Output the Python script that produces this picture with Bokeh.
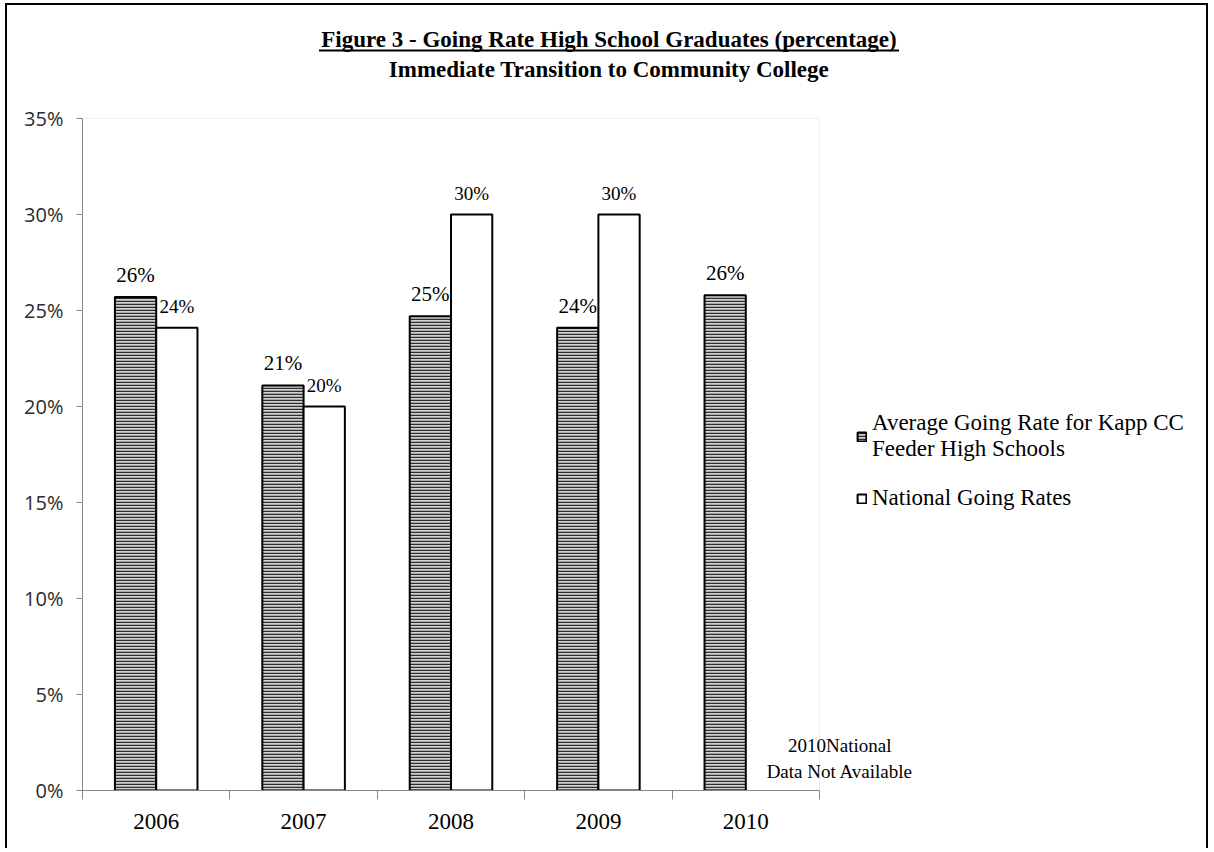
import numpy as np
from bokeh.plotting import figure
from bokeh.models import (ColumnDataSource, Range1d, FixedTicker, PrintfTickFormatter,
                          LabelSet, Label, Legend, LegendItem, Arrow, BoxAnnotation)
from bokeh.transform import dodge
from bokeh.core.properties import value
from bokeh.embed import file_html
from bokeh.resources import INLINE

# ---------------- data ----------------
years = ["2006", "2007", "2008", "2009", "2010"]
feeder_rate = [25.7, 21.1, 24.7, 24.1, 25.8]
feeder_labels = ["26%", "21%", "25%", "24%", "26%"]
national_rate = [24.1, 20.0, 30.0, 30.0, None]
national_labels = ["24%", "20%", "30%", "30%", ""]
y_ticks = [0, 5, 10, 15, 20, 25, 30, 35]
series_names = ["Average Going Rate for Kapp CC\nFeeder High Schools", "National Going Rates"]
title_text = "Figure 3 - Going Rate High School Graduates (percentage)"
subtitle_text = "Immediate Transition to Community College"
note_text = "2010National\nData Not Available"

# ---------------- layout (pixels) ----------------
W, H = 1203, 845            # canvas size (inside the 2px box border)
ML, MB = 75, 60             # space for the axes
PLOT_W, PLOT_H = 737, 672   # pixel size of the charted region (x 0.5..5.5, y 0..35)
FW, FH = W - ML, H - MB     # frame covers everything above / right of the axes

x_lo, x_hi = 0.5, len(years) + 0.5
y_lo, y_hi = 0, 35
px_x = PLOT_W / (x_hi - x_lo)
px_y = PLOT_H / (y_hi - y_lo)
x_end = x_lo + FW / px_x
y_end = y_lo + FH / px_y

pos = [i + 1 for i in range(len(years))]
src = ColumnDataSource(dict(
    x=pos,
    feeder=feeder_rate,
    national=[np.nan if v is None else v for v in national_rate],
    fl=feeder_labels,
    nl=national_labels,
))

p = figure(width=W, height=H, x_range=Range1d(x_lo, x_end), y_range=Range1d(y_lo, y_end),
           output_backend="svg", toolbar_location=None,
           min_border_left=ML, min_border_top=0, min_border_right=0, min_border_bottom=MB)
p.styles = {"border-top": "2px solid black", "border-left": "2px solid black",
            "border-right": "2px solid black", "margin-left": "5px", "margin-top": "3px"}
p.background_fill_color = "white"
p.border_fill_color = "white"
p.outline_line_color = None
p.xgrid.visible = False
p.ygrid.visible = False

# plot-area edge (light grey box behind the data)
p.add_layout(BoxAnnotation(left=x_lo, right=x_hi, bottom=y_lo, top=y_hi,
                           fill_alpha=0, line_color="#cfcfcf", line_width=1,
                           level="underlay"))

# y axis
p.yaxis.bounds = (y_lo, y_hi)
p.yaxis.ticker = FixedTicker(ticks=y_ticks)
p.yaxis.formatter = PrintfTickFormatter(format="%d%%")
p.yaxis.axis_line_color = "#868686"
p.yaxis.major_tick_line_color = "#868686"
p.yaxis.major_tick_out = 6
p.yaxis.major_tick_in = 0
p.yaxis.minor_tick_line_color = None
p.yaxis.major_label_text_font = "Open Sans"
p.yaxis.major_label_text_font_size = "20px"
p.yaxis.major_label_text_color = "#2b2b2b"
p.yaxis.major_label_standoff = 13

# x axis
p.xaxis.bounds = (x_lo, x_hi)
p.xaxis.ticker = FixedTicker(ticks=pos, minor_ticks=[x_lo + i for i in range(len(years) + 1)])
p.xaxis.major_label_overrides = {xp: y for xp, y in zip(pos, years)}
p.xaxis.axis_line_color = "#868686"
p.xaxis.major_tick_line_color = None
p.xaxis.major_tick_out = 0
p.xaxis.major_tick_in = 0
p.xaxis.minor_tick_line_color = "#868686"
p.xaxis.minor_tick_out = 9
p.xaxis.minor_tick_in = 0
p.xaxis.major_label_text_font = "Liberation Serif"
p.xaxis.major_label_text_font_size = "23px"
p.xaxis.major_label_text_color = "black"
p.xaxis.major_label_standoff = 14

# bars
bw = 0.28
off = 0.14
feeder = p.vbar(x=dodge("x", -off, range=p.x_range), top="feeder", width=bw, source=src,
                fill_color="#d0d0d0", line_color="black", line_width=2,
                hatch_pattern="horizontal_line", hatch_color="#2e2e2e",
                hatch_scale=3, hatch_weight=1.5)
national = p.vbar(x=dodge("x", off, range=p.x_range), top="national", width=bw, source=src,
                  fill_color="white", line_color="black", line_width=2)

# value labels
p.add_layout(LabelSet(x=dodge("x", -off, range=p.x_range), y="feeder", text="fl", source=src,
                      y_offset=22, text_align="center", text_baseline="middle",
                      text_font=value("Liberation Serif"), text_font_size="21px",
                      text_color="black"))
p.add_layout(LabelSet(x=dodge("x", off, range=p.x_range), y="national", text="nl", source=src,
                      y_offset=21, text_align="center", text_baseline="middle",
                      text_font=value("Liberation Serif"), text_font_size="19px",
                      text_color="black"))

# note for missing 2010 national value
p.add_layout(Label(x=pos[-1], y=y_lo, x_offset=94, y_offset=32, text=note_text,
                   text_align="center", text_baseline="middle",
                   text_font="Liberation Serif", text_font_size="19px",
                   text_line_height=1.2, text_color="black"))

# titles (centred on the whole box)
title_x = x_lo + (W / 2 - ML) / px_x
p.add_layout(Label(x=title_x, y=y_hi, y_offset=79, text=title_text,
                   text_align="center", text_baseline="alphabetic",
                   text_font="Liberation Serif", text_font_style="bold",
                   text_font_size="23px", text_color="black"))
p.add_layout(Label(x=title_x, y=y_hi, y_offset=49, text=subtitle_text,
                   text_align="center", text_baseline="alphabetic",
                   text_font="Liberation Serif", text_font_style="bold",
                   text_font_size="23px", text_color="black"))
# underline of title
ul_half = 290
ul_y = y_hi + 68 / px_y
p.add_layout(Arrow(end=None, start=None,
                   x_start=title_x - ul_half / px_x, y_start=ul_y,
                   x_end=title_x + ul_half / px_x, y_end=ul_y,
                   line_color="black", line_width=1.8))

# legend
legend = Legend(items=[LegendItem(label=series_names[0], renderers=[feeder]),
                       LegendItem(label=series_names[1], renderers=[national])],
                location=(774, 279), margin=0, padding=0,
                border_line_color=None, background_fill_alpha=0,
                label_text_font="Liberation Serif", label_text_font_size="23px",
                label_text_color="black",
                glyph_width=11, glyph_height=11, label_standoff=5, spacing=23)
p.add_layout(legend, "center")

open("out.html", "w").write(file_html(p, INLINE))
